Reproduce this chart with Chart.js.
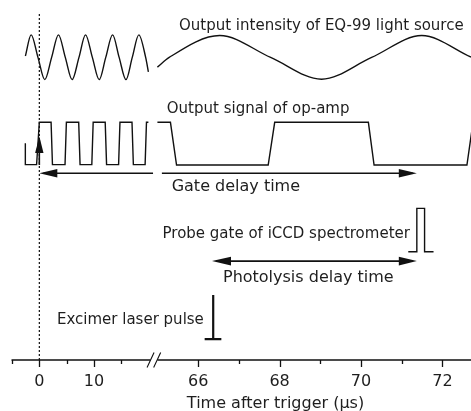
<!DOCTYPE html>
<html>
<head>
<meta charset="utf-8">
<script src="https://cdn.jsdelivr.net/npm/chart.js@4.4.0/dist/chart.umd.min.js"></script>
<style>
  html, body { margin: 0; padding: 0; background: #fff; }
  #wrap { width: 471px; height: 411px; position: relative; }
</style>
</head>
<body>
<div id="wrap"><canvas id="timingChart"></canvas></div>
<script>
// Times in microseconds after trigger, levels in arbitrary units (0 = time axis, 100 = top)

// EQ-99 lamp intensity, left of the axis break
const lampFastT = [-2.55, -1.5, -0.25, 1.0, 2.25, 3.5, 4.75, 6.0, 7.25, 8.45, 9.7, 10.95, 12.15, 13.4, 14.6, 15.85, 17.0, 18.2, 19.45, 19.95];
const lampFastY = [87.6, 93.7, 87.2, 80.8, 87.2, 93.7, 87.2, 80.8, 87.2, 93.7, 87.2, 80.8, 87.2, 93.7, 87.2, 80.8, 87.2, 93.7, 87.2, 83.0];
// EQ-99 lamp intensity, right of the break
const lampSlowT = [65.0, 65.29, 66.53, 67.78, 69.03, 70.26, 71.49, 72.7];
const lampSlowY = [84.4, 87.2, 93.5, 87.2, 80.9, 87.2, 93.5, 87.3];

// op-amp output (square wave)
const opampFastT = [-2.56, -2.56, -0.5, 0.0, 2.15, 2.4, 4.7, 4.95, 7.2, 7.45, 9.6, 9.85, 12.05, 12.3, 14.5, 14.75, 16.95, 17.2, 19.35, 19.6, 19.95];
const opampFastY = [62.5, 56.3, 56.3, 68.5, 68.5, 56.3, 56.3, 68.5, 68.5, 56.3, 56.3, 68.5, 68.5, 56.3, 56.3, 68.5, 68.5, 56.3, 56.3, 68.5, 68.5];
const opampSlowT = [65.0, 65.32, 65.47, 67.72, 67.88, 70.18, 70.32, 72.6, 72.75];
const opampSlowY = [68.5, 68.5, 56.2, 56.2, 68.5, 68.5, 56.2, 56.2, 68.5];

// iCCD probe gate
const probeT = [71.16, 71.37, 71.37, 71.56, 71.56, 71.78];
const probeY = [31.2, 31.2, 43.7, 43.7, 31.2, 31.2];

// excimer laser pulse (stem, then foot)
const excimerT = [66.37, 66.37, 66.16, 66.57];
const excimerY = [18.7, 6.0, 6.0, 6.0];

// trigger marker
const triggerT = [0, 0];
const triggerY = [0, 100];

// arrows
const gateArrowT = [0, 20.8, 65.11, 71.37];
const gateArrowY = 53.8;
const photolysisArrowT = [66.34, 71.37];
const photolysisArrowY = 28.5;
const triggerArrowY = [56.2, 64.4];

// axis
const axisBreak = [20.3, 65.0];
const axisEnd = 72.7;
const tickTimes = [-5, 0, 5, 10, 15, 66, 67, 68, 69, 70, 71, 72];
const tickLabels = ['', '0', '', '10', '', '66', '', '68', '', '70', '', '72'];

const ink = '#111';
const textInk = '#1e1e1e';
const fontFamily = '"DejaVu Sans", sans-serif';

// broken time axis: slow part on the left, stretched part after the break
function toAxis(t) {
    return t <= 40 ? t : 21.6 + (t - 65) * 7.45;
}

const pts = (ts, ys) => ts.map((t, i) => ({ x: toAxis(t), y: ys[i] }));

function lineSet(ts, ys, extra) {
    return Object.assign({
        data: pts(ts, ys),
        borderColor: ink,
        borderWidth: 1.4,
        pointRadius: 0,
        fill: false,
        tension: 0
    }, extra || {});
}

function arrowHead(ctx, tipX, tipY, ux, uy, len, half) {
    const bx = tipX - ux * len, by = tipY - uy * len;
    ctx.beginPath();
    ctx.moveTo(tipX, tipY);
    ctx.lineTo(bx - uy * half, by + ux * half);
    ctx.lineTo(bx + uy * half, by - ux * half);
    ctx.closePath();
    ctx.fill();
}

const timingDecor = {
    id: 'timingDecor',
    afterDatasetsDraw(chart) {
        const { ctx, chartArea, scales: { x, y } } = chart;
        const px = t => x.getPixelForValue(toAxis(t));
        const py = v => y.getPixelForValue(v);
        const ay = chartArea.bottom;

        ctx.save();
        ctx.strokeStyle = ink;
        ctx.fillStyle = ink;
        ctx.lineCap = 'butt';

        // time axis with break
        ctx.lineWidth = 1.3;
        ctx.beginPath();
        ctx.moveTo(chartArea.left - 0.5, ay);
        ctx.lineTo(px(axisBreak[0]), ay);
        ctx.moveTo(px(axisBreak[1]), ay);
        ctx.lineTo(chartArea.right, ay);
        ctx.stroke();

        const mid = (px(axisBreak[0]) + px(axisBreak[1])) / 2;
        ctx.lineWidth = 1.1;
        ctx.beginPath();
        [-3.3, 3.3].forEach(off => {
            ctx.moveTo(mid + off - 3.5, ay + 7.5);
            ctx.lineTo(mid + off + 3.5, ay - 7.5);
        });
        ctx.stroke();

        ctx.lineWidth = 1.3;
        ctx.beginPath();
        tickTimes.forEach((t, i) => {
            const xx = Math.round(px(t)) + 0.5;
            ctx.moveTo(xx, ay);
            ctx.lineTo(xx, ay + (tickLabels[i] ? 7 : 4));
        });
        ctx.stroke();

        // gate delay arrow
        ctx.lineWidth = 1.6;
        const gy = py(gateArrowY);
        ctx.beginPath();
        ctx.moveTo(px(gateArrowT[0]) + 4, gy);
        ctx.lineTo(px(gateArrowT[1]), gy);
        ctx.moveTo(px(gateArrowT[2]), gy);
        ctx.lineTo(px(gateArrowT[3]) - 4, gy);
        ctx.stroke();
        arrowHead(ctx, px(gateArrowT[0]), gy, -1, 0, 18, 4.3);
        arrowHead(ctx, px(gateArrowT[3]), gy, 1, 0, 18, 4.3);

        // photolysis delay arrow
        ctx.lineWidth = 1.8;
        const phy = py(photolysisArrowY);
        ctx.beginPath();
        ctx.moveTo(px(photolysisArrowT[0]) + 4, phy);
        ctx.lineTo(px(photolysisArrowT[1]) - 4, phy);
        ctx.stroke();
        arrowHead(ctx, px(photolysisArrowT[0]), phy, -1, 0, 19, 4.3);
        arrowHead(ctx, px(photolysisArrowT[1]), phy, 1, 0, 18, 4.3);

        // trigger arrow
        ctx.lineWidth = 1.6;
        const tx = px(0);
        ctx.beginPath();
        ctx.moveTo(tx, py(triggerArrowY[0]));
        ctx.lineTo(tx, py(triggerArrowY[1]) + 4);
        ctx.stroke();
        arrowHead(ctx, tx, py(triggerArrowY[1]), 0, -1, 16.5, 4.2);

        // labels
        ctx.fillStyle = textInk;
        ctx.textBaseline = 'alphabetic';
        const label = (txt, t, v, size, align) => {
            ctx.font = size + 'px ' + fontFamily;
            ctx.textAlign = align || 'left';
            ctx.fillText(txt, px(t), py(v));
        };
        label('Output intensity of EQ-99 light source', 65.53, 95.1, 15);
        label('Output signal of op-amp', 65.23, 71.2, 15);
        label('Gate delay time', 65.35, 48.7, 16);
        label('Probe gate of iCCD spectrometer', 71.2, 35.2, 15, 'right');
        label('Photolysis delay time', 66.61, 22.6, 16);
        label('Excimer laser pulse', 66.14, 10.4, 15, 'right');

        ctx.font = '16px ' + fontFamily;
        ctx.textAlign = 'center';
        ctx.fillText('Time after trigger (\u03bcs)', px(67.9), ay + 48);
        ctx.restore();
    }
};

new Chart(document.getElementById('timingChart'), {
    type: 'line',
    data: {
        datasets: [
            lineSet(lampFastT, lampFastY, { cubicInterpolationMode: 'monotone' }),
            lineSet(lampSlowT, lampSlowY, { cubicInterpolationMode: 'monotone' }),
            lineSet(opampFastT, opampFastY),
            lineSet(opampSlowT, opampSlowY),
            lineSet(probeT, probeY),
            lineSet(excimerT, excimerY, { borderWidth: 2.2 }),
            lineSet(triggerT, triggerY, { borderWidth: 1.2, borderDash: [2, 2] })
        ]
    },
    options: {
        responsive: true,
        maintainAspectRatio: false,
        animation: false,
        events: [],
        layout: { padding: { left: 12, top: 13, right: 0, bottom: 0 } },
        plugins: {
            legend: { display: false },
            tooltip: { enabled: false }
        },
        scales: {
            x: {
                type: 'linear',
                min: -5,
                max: toAxis(axisEnd),
                grid: { display: false, drawTicks: false },
                border: { display: false },
                afterBuildTicks: s => { s.ticks = tickTimes.map(t => ({ value: toAxis(t) })); },
                afterFit: s => { s.height = 51; },
                ticks: {
                    autoSkip: false,
                    maxRotation: 0,
                    padding: 12,
                    color: textInk,
                    font: { family: 'DejaVu Sans', size: 16 },
                    callback: (v, i) => tickLabels[i]
                }
            },
            y: { type: 'linear', min: 0, max: 100, display: false }
        }
    },
    plugins: [timingDecor]
});
</script>
</body>
</html>
